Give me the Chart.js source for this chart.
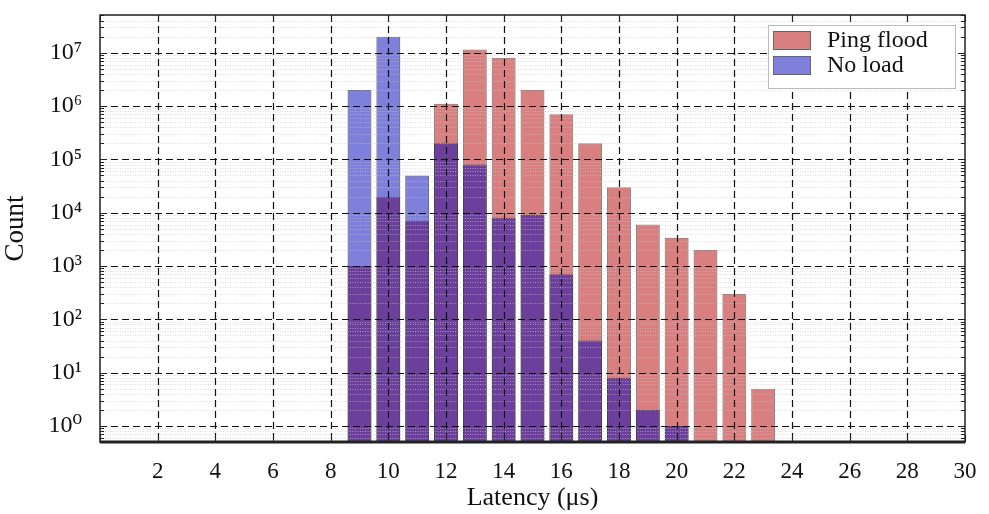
<!DOCTYPE html>
<html>
<head>
<meta charset="utf-8">
<script src="https://cdn.jsdelivr.net/npm/chart.js@4/dist/chart.umd.min.js"></script>
<style>
  html, body { margin: 0; padding: 0; background: #fff; }
  #wrap { width: 989px; height: 514px; }
</style>
</head>
<body>
<div id="wrap"><canvas id="chart-latency" width="989" height="514"></canvas></div>
<script>
// latency bins (us)
const latencyBins = [9, 10, 11, 12, 13, 14, 15, 16, 17, 18, 19, 20, 21, 22, 23];
// counts (log scale)
const pingFlood = [1000, 20000, 7000, 1100000, 11500000, 8000000, 2000000, 700000, 200000, 30000, 6000, 3400, 2000, 300, 5];
const noLoad = [2000000, 20000000, 50000, 200000, 80000, 8000, 9000, 700, 40, 8, 2, 1, null, null, null];
const xTicks = [0, 2, 4, 6, 8, 10, 12, 14, 16, 18, 20, 22, 24, 26, 28, 30];
const yTicks = [1, 10, 100, 1000, 10000, 100000, 1000000, 10000000];
const supers = ['⁰', '¹', '²', '³', '⁴', '⁵', '⁶', '⁷', '⁸', '⁹'];

const serif = '"Liberation Serif", "DejaVu Serif", serif';
const redFill = 'rgba(180, 0, 0, 0.5)';
const blueFill = 'rgba(0, 0, 185, 0.5)';

const toPoints = (vals) => latencyBins.map((x, i) => ({ x: x, y: vals[i] })).filter(p => p.y !== null);

// grid on top of the bars, inward ticks, frame and legend box
const overlay = {
    id: 'overlay',
    afterDatasetsDraw(chart) {
        const ctx = chart.ctx;
        const a = chart.chartArea;
        const xs = chart.scales.x;
        const ys = chart.scales.y;
        ctx.save();
        // minor dotted lines
        ctx.strokeStyle = 'rgba(200,200,200,0.6)';
        ctx.lineWidth = 1;
        ctx.setLineDash([1, 1.5]);
        for (let e = -1; e <= 7; e++) {
            for (let m = 2; m <= 9; m++) {
                const v = m * Math.pow(10, e);
                if (v < ys.min || v > ys.max) continue;
                const y = Math.round(ys.getPixelForValue(v)) + 0.5;
                ctx.beginPath(); ctx.moveTo(a.left, y); ctx.lineTo(a.right, y); ctx.stroke();
            }
        }
        // major dashed lines
        ctx.strokeStyle = '#111';
        ctx.lineWidth = 1.2;
        ctx.setLineDash([7, 4]);
        yTicks.forEach(v => {
            const y = Math.round(ys.getPixelForValue(v)) + 0.5;
            ctx.beginPath(); ctx.moveTo(a.left, y); ctx.lineTo(a.right, y); ctx.stroke();
        });
        xTicks.forEach(v => {
            if (v <= xs.min || v >= xs.max) return;
            const x = Math.round(xs.getPixelForValue(v)) + 0.5;
            ctx.beginPath(); ctx.moveTo(x, a.top); ctx.lineTo(x, a.bottom); ctx.stroke();
        });
        ctx.setLineDash([]);
        // inward tick marks
        ctx.strokeStyle = '#222';
        ctx.lineWidth = 1;
        for (let e = -1; e <= 7; e++) {
            for (let m = 1; m <= 9; m++) {
                const v = m * Math.pow(10, e);
                if (v < ys.min || v > ys.max) continue;
                const len = m === 1 ? 7 : 4;
                const y = Math.round(ys.getPixelForValue(v)) + 0.5;
                ctx.beginPath();
                ctx.moveTo(a.left, y); ctx.lineTo(a.left + len, y);
                ctx.moveTo(a.right, y); ctx.lineTo(a.right - len, y);
                ctx.stroke();
            }
        }
        xTicks.forEach(v => {
            const x = Math.round(xs.getPixelForValue(v)) + 0.5;
            ctx.beginPath();
            ctx.moveTo(x, a.bottom); ctx.lineTo(x, a.bottom - 7);
            ctx.moveTo(x, a.top); ctx.lineTo(x, a.top + 7);
            ctx.stroke();
        });
        // frame
        ctx.strokeStyle = '#222';
        ctx.lineWidth = 1.5;
        ctx.strokeRect(a.left, a.top, a.right - a.left, a.bottom - a.top);
        ctx.lineWidth = 3;
        ctx.beginPath(); ctx.moveTo(a.left, a.bottom); ctx.lineTo(a.right, a.bottom); ctx.stroke();

        // legend
        const lx = 768, ly = 25, lw = 187, lh = 63;
        ctx.fillStyle = '#fff';
        ctx.fillRect(lx, ly, lw, lh);
        ctx.strokeStyle = '#bbb';
        ctx.lineWidth = 1;
        ctx.strokeRect(lx + 0.5, ly + 0.5, lw, lh);
        chart.data.datasets.forEach((ds, i) => {
            const sy = 31 + i * 25;
            ctx.fillStyle = '#fff';
            ctx.fillRect(773, sy, 38, 19);
            ctx.fillStyle = ds.backgroundColor;
            ctx.fillRect(773, sy, 38, 19);
            ctx.strokeStyle = '#666';
            ctx.strokeRect(773.5, sy + 0.5, 37, 18);
            ctx.fillStyle = '#111';
            ctx.font = '24px ' + serif;
            ctx.textAlign = 'left';
            ctx.textBaseline = 'middle';
            ctx.fillText(ds.label, 827, sy + 10);
        });
        ctx.restore();
    }
};

const chartLatency = document.getElementById('chart-latency');
const config = {
    type: 'bar',
    data: {
        datasets: [{
            label: 'Ping flood',
            data: toPoints(pingFlood),
            backgroundColor: redFill,
            borderColor: 'rgba(40,40,40,0.6)',
            borderWidth: 1,
            order: 1
        }, {
            label: 'No load',
            data: toPoints(noLoad),
            backgroundColor: blueFill,
            borderColor: 'rgba(30,30,30,0.7)',
            borderWidth: 1,
            order: 0
        }]
    },
    options: {
        responsive: false,
        animation: false,
        grouped: false,
        barPercentage: 0.83,
        categoryPercentage: 1,
        layout: { padding: { top: 15, right: 24, left: 0, bottom: 0 } },
        plugins: {
            legend: { display: false },
            tooltip: { enabled: false }
        },
        scales: {
            x: {
                type: 'linear',
                offset: false,
                min: 0,
                max: 30,
                afterBuildTicks: (s) => { s.ticks = xTicks.map(v => ({ value: v })); },
                afterFit: (s) => { s.height = 72; s.paddingLeft = 0; s.paddingRight = 0; },
                grid: { display: false, offset: false },
                border: { display: false },
                ticks: {
                    color: '#111',
                    padding: 8,
                    maxRotation: 0,
                    font: { family: serif, size: 23 },
                    callback: (v) => v === 0 ? '' : String(v)
                },
                title: {
                    display: true,
                    text: 'Latency (μs)',
                    color: '#111',
                    font: { family: serif, size: 26 },
                    padding: { top: 0, bottom: 0 }
                }
            },
            y: {
                type: 'logarithmic',
                min: 0.5,
                max: 5.1e7,
                afterBuildTicks: (s) => { s.ticks = yTicks.map(v => ({ value: v })); },
                afterFit: (s) => { s.width = 100; s.paddingTop = 0; s.paddingBottom = 0; },
                grid: { display: false },
                border: { display: false },
                ticks: {
                    color: '#111',
                    padding: 10,
                    font: { family: serif, size: 24 },
                    callback: (v) => '10' + supers[Math.round(Math.log10(v))]
                },
                title: {
                    display: true,
                    text: 'Count',
                    color: '#111',
                    font: { family: serif, size: 27 },
                    padding: { top: 0, bottom: 0 }
                }
            }
        }
    },
    plugins: [overlay]
};
new Chart(chartLatency, config);
</script>
</body>
</html>
